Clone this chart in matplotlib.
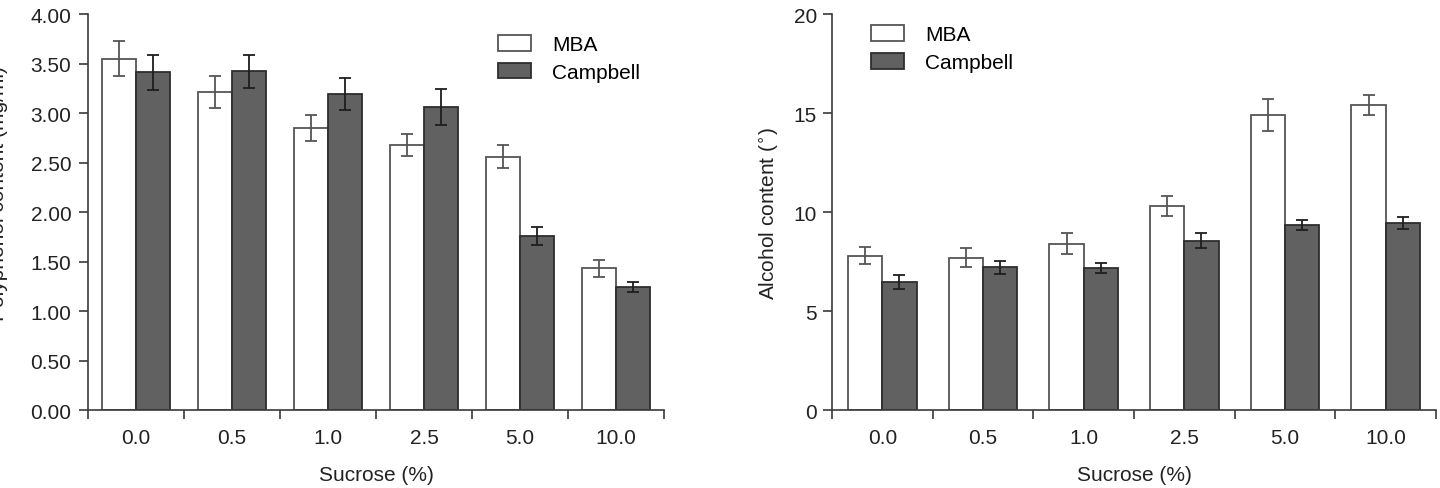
import matplotlib
matplotlib.use("Agg")
import matplotlib.pyplot as plt
import numpy as np

plt.rcParams["font.family"] = ["Liberation Sans", "DejaVu Sans"]

sucrose = ["0.0", "0.5", "1.0", "2.5", "5.0", "10.0"]

poly_mba = [3.55, 3.21, 2.85, 2.68, 2.56, 1.43]
poly_mba_err = [0.18, 0.16, 0.13, 0.11, 0.12, 0.09]
poly_camp = [3.41, 3.42, 3.19, 3.06, 1.76, 1.24]
poly_camp_err = [0.18, 0.17, 0.16, 0.18, 0.09, 0.05]

alc_mba = [7.8, 7.7, 8.4, 10.3, 14.9, 15.4]
alc_mba_err = [0.42, 0.47, 0.52, 0.52, 0.83, 0.51]
alc_camp = [6.45, 7.2, 7.17, 8.55, 9.35, 9.45]
alc_camp_err = [0.35, 0.33, 0.27, 0.37, 0.25, 0.32]

SPINE = "#3a3a3a"
TXT = "#222222"
FS = 15


def draw_panel(ax, mba, mba_err, camp, camp_err, width, ylim, yticks, yfmt, ylabel, ypad):
    x = np.arange(len(sucrose))
    ax.bar(x - width / 2, mba, width, color="white", edgecolor="#555555",
           linewidth=1.3, label="MBA", zorder=2)
    ax.bar(x + width / 2, camp, width, color="#616161", edgecolor="#2e2e2e",
           linewidth=1.3, label="Campbell", zorder=2)
    ax.errorbar(x - width / 2, mba, yerr=mba_err, fmt="none", ecolor="#555555",
                elinewidth=1.3, capsize=4.5, capthick=1.3, zorder=3)
    ax.errorbar(x + width / 2, camp, yerr=camp_err, fmt="none", ecolor="#1e1e1e",
                elinewidth=1.3, capsize=4.5, capthick=1.3, zorder=3)

    ax.set_xlim(-0.5, len(sucrose) - 0.5)
    ax.set_ylim(*ylim)
    ax.set_yticks(yticks)
    ax.set_yticklabels([yfmt.format(v) for v in yticks])

    # boundary ticks (unlabelled) + category labels on minor ticks
    ax.set_xticks(np.arange(-0.5, len(sucrose), 1.0))
    ax.set_xticklabels([])
    ax.set_xticks(x, minor=True)
    ax.set_xticklabels(sucrose, minor=True)
    ax.tick_params(axis="x", which="major", direction="out", length=6.5,
                   width=1.2, color=SPINE)
    ax.tick_params(axis="x", which="minor", length=0, pad=13, labelsize=FS,
                   labelcolor=TXT)
    ax.tick_params(axis="y", direction="out", length=6.5, width=1.2,
                   color=SPINE, labelsize=FS, labelcolor=TXT, pad=ypad)

    for side in ("top", "right"):
        ax.spines[side].set_visible(False)
    for side in ("left", "bottom"):
        ax.spines[side].set_color(SPINE)
        ax.spines[side].set_linewidth(1.2)

    ax.set_xlabel("Sucrose (%)", fontsize=FS, color=TXT, labelpad=13)
    ax.set_ylabel(ylabel, fontsize=FS, color=TXT)


fig = plt.figure(figsize=(14.4, 4.89), dpi=100)
ax1 = fig.add_axes([0.0611, 0.1595, 0.40, 0.8098])
ax2 = fig.add_axes([0.5778, 0.1595, 0.4194, 0.8098])

draw_panel(ax1, poly_mba, poly_mba_err, poly_camp, poly_camp_err, 0.354,
           (0, 4), np.arange(0, 4.01, 0.5), "{:.2f}", "Polyphenol content (mg/ml)", 5.5)
draw_panel(ax2, alc_mba, alc_mba_err, alc_camp, alc_camp_err, 0.34,
           (0, 20), [0, 5, 10, 15, 20], "{:d}", "Alcohol content ($^{\\circ}$)", 4.5)

ax1.yaxis.set_label_coords(-0.138, 0.55)
ax2.yaxis.set_label_coords(-0.084, 0.5)

leg_kw = dict(frameon=False, fontsize=FS, handlelength=1.6, handleheight=0.8,
              handletextpad=1.0, labelspacing=0.4, borderpad=0, borderaxespad=0,
              loc="upper left")
ax1.legend(bbox_to_anchor=(0.712, 0.947), **leg_kw)
ax2.legend(bbox_to_anchor=(0.0646, 0.972), **leg_kw)

fig.savefig("out.png", dpi=100)
